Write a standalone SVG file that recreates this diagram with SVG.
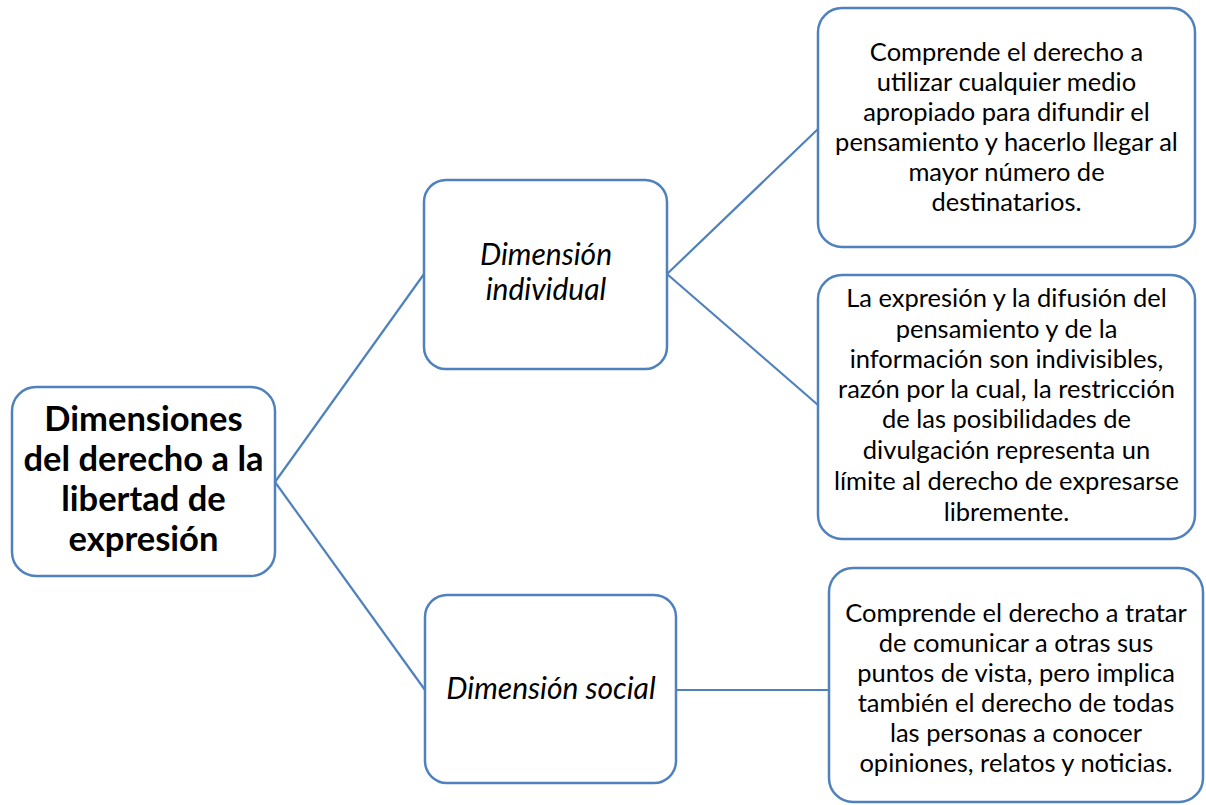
<svg xmlns="http://www.w3.org/2000/svg" width="1206" height="805" viewBox="0 0 1206 805">
<style>
.box{fill:#fff;stroke:#4f81bd;stroke-width:2.5}
.edge{stroke:#4f81bd;stroke-width:2.2;fill:none}
text{font-family:Lato,"Liberation Sans",sans-serif;fill:#000;text-anchor:middle}
.t{font-size:25.5px}
.b{font-size:34.5px;font-weight:bold}
.i{font-size:30px;font-style:italic}
</style>
<rect width="1206" height="805" fill="#fff"/>
<g id="connectors">
<line class="edge" x1="275" y1="482" x2="424" y2="274"/>
<line class="edge" x1="275" y1="482" x2="425" y2="690"/>
<line class="edge" x1="667" y1="274" x2="818" y2="129"/>
<line class="edge" x1="667" y1="274" x2="818" y2="405"/>
<line class="edge" x1="676" y1="690" x2="829" y2="690"/>
</g>
<g id="root">
<rect class="box" x="12" y="387" width="263" height="189" rx="24"/>
<text class="b"><tspan x="143.5" y="431">Dimensiones</tspan><tspan x="143.5" y="471">del derecho a la</tspan><tspan x="143.5" y="511">libertad de</tspan><tspan x="143.5" y="551">expresión</tspan></text>
</g>
<g id="individual">
<rect class="box" x="424" y="180" width="243" height="189" rx="22"/>
<text class="i"><tspan x="546" y="265">Dimensión</tspan><tspan x="546" y="300">individual</tspan></text>
</g>
<g id="social">
<rect class="box" x="425" y="595" width="251" height="188" rx="22"/>
<text class="i" x="551" y="699">Dimensión social</text>
</g>
<g id="ind1">
<rect class="box" x="818" y="8" width="377" height="239" rx="24"/>
<text class="t"><tspan x="1006.5" y="61">Comprende el derecho a</tspan><tspan x="1006.5" y="91">utilizar cualquier medio</tspan><tspan x="1006.5" y="121">apropiado para difundir el</tspan><tspan x="1006.5" y="151">pensamiento y hacerlo llegar al</tspan><tspan x="1006.5" y="181">mayor número de</tspan><tspan x="1006.5" y="211">destinatarios.</tspan></text>
</g>
<g id="ind2">
<rect class="box" x="818" y="275" width="377" height="264" rx="24"/>
<text class="t"><tspan x="1006.5" y="307">La expresión y la difusión del</tspan><tspan x="1006.5" y="338">pensamiento y de la</tspan><tspan x="1006.5" y="368">información son indivisibles,</tspan><tspan x="1006.5" y="398">razón por la cual, la restricción</tspan><tspan x="1006.5" y="428">de las posibilidades de</tspan><tspan x="1006.5" y="459">divulgación representa un</tspan><tspan x="1006.5" y="490">límite al derecho de expresarse</tspan><tspan x="1006.5" y="521">libremente.</tspan></text>
</g>
<g id="soc1">
<rect class="box" x="829" y="568" width="374" height="234" rx="24"/>
<text class="t"><tspan x="1016" y="622">Comprende el derecho a tratar</tspan><tspan x="1016" y="652">de comunicar a otras sus</tspan><tspan x="1016" y="682">puntos de vista, pero implica</tspan><tspan x="1016" y="712">también el derecho de todas</tspan><tspan x="1016" y="742">las personas a conocer</tspan><tspan x="1016" y="772">opiniones, relatos y noticias.</tspan></text>
</g>
</svg>
